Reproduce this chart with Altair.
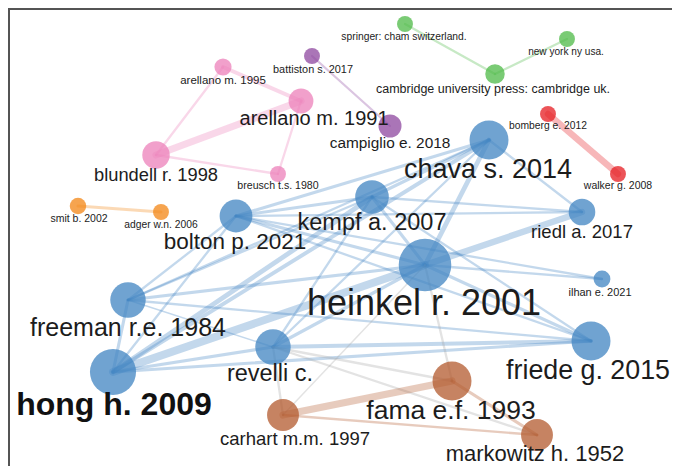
import altair as alt
import pandas as pd

node_names = [
    "heinkel r. 2001", "hong h. 2009", "chava s. 2014", "friede g. 2015",
    "freeman r.e. 1984", "revelli c.", "kempf a. 2007", "bolton p. 2021",
    "riedl a. 2017", "ilhan e. 2021",
    "fama e.f. 1993", "markowitz h. 1952", "carhart m.m. 1997",
    "blundell r. 1998", "arellano m. 1991", "arellano m. 1995", "breusch t.s. 1980",
    "smit b. 2002", "adger w.n. 2006",
    "battiston s. 2017", "campiglio e. 2018",
    "springer: cham switzerland.", "new york ny usa.", "cambridge university press: cambridge uk.",
    "bomberg e. 2012", "walker g. 2008",
]
node_x = [425, 113, 489, 591, 128, 273, 372, 236, 582, 602,
          452, 537, 283,
          156, 301, 223, 278,
          78, 161,
          312, 390,
          405, 567, 495,
          548, 618]
node_y = [265, 372, 140, 341, 300, 347, 197, 216, 212, 279,
          381, 435, 415,
          155, 101, 67, 174,
          206, 212,
          56, 126,
          24, 39, 74,
          114, 174]
node_weight = [880, 676, 484, 484, 400, 400, 361, 342, 225, 90,
               484, 324, 324,
               240, 196, 94, 81,
               86, 81,
               81, 169,
               81, 81, 121,
               81, 81]
node_cluster = ["blue"] * 10 + ["brown"] * 3 + ["pink"] * 4 + ["orange"] * 2 + \
               ["purple"] * 2 + ["green"] * 3 + ["red"] * 2

# ---- labels ----
label_x = [424, 114, 488, 588, 128, 270, 372, 235, 582, 600,
           451, 535, 295,
           156, 314, 223, 278,
           79, 161,
           313, 390,
           404, 566, 493,
           548, 618]
label_y = [315, 415, 178, 379, 336, 381, 230, 249, 238, 296,
           419, 461, 445,
           181, 125, 84, 189,
           222, 228,
           73, 148,
           40, 55, 93,
           129, 189]
label_size = [36, 32, 27, 26.8, 25, 23.5, 23.5, 22.5, 18.5, 11,
              26.5, 22, 18.5,
              18.3, 20, 11.5, 10.6,
              10.5, 10.3,
              10.9, 15.4,
              10.3, 10.1, 12.5,
              10.3, 10.5]
label_bold = [n == "hong h. 2009" for n in node_names]

# ---- links ----
edge_source = [
    "heinkel r. 2001", "heinkel r. 2001", "heinkel r. 2001", "heinkel r. 2001", "heinkel r. 2001",
    "heinkel r. 2001", "heinkel r. 2001", "heinkel r. 2001", "heinkel r. 2001",
    "chava s. 2014", "chava s. 2014", "chava s. 2014", "chava s. 2014", "chava s. 2014", "chava s. 2014",
    "kempf a. 2007", "kempf a. 2007", "kempf a. 2007", "kempf a. 2007", "kempf a. 2007", "kempf a. 2007",
    "bolton p. 2021", "bolton p. 2021", "bolton p. 2021", "bolton p. 2021", "bolton p. 2021",
    "freeman r.e. 1984", "freeman r.e. 1984", "freeman r.e. 1984",
    "revelli c.", "revelli c.", "hong h. 2009",
    "revelli c.", "revelli c.", "revelli c.", "heinkel r. 2001", "heinkel r. 2001",
    "carhart m.m. 1997", "carhart m.m. 1997", "fama e.f. 1993",
    "blundell r. 1998", "blundell r. 1998", "blundell r. 1998", "arellano m. 1991", "arellano m. 1991",
    "smit b. 2002", "battiston s. 2017",
    "springer: cham switzerland.", "cambridge university press: cambridge uk.",
    "bomberg e. 2012",
]
edge_target = [
    "hong h. 2009", "riedl a. 2017", "chava s. 2014", "kempf a. 2007", "bolton p. 2021",
    "freeman r.e. 1984", "revelli c.", "friede g. 2015", "ilhan e. 2021",
    "kempf a. 2007", "bolton p. 2021", "hong h. 2009", "riedl a. 2017", "freeman r.e. 1984", "revelli c.",
    "bolton p. 2021", "hong h. 2009", "freeman r.e. 1984", "riedl a. 2017", "friede g. 2015", "revelli c.",
    "hong h. 2009", "freeman r.e. 1984", "riedl a. 2017", "friede g. 2015", "ilhan e. 2021",
    "hong h. 2009", "friede g. 2015", "revelli c.",
    "hong h. 2009", "friede g. 2015", "friede g. 2015",
    "fama e.f. 1993", "markowitz h. 1952", "carhart m.m. 1997", "fama e.f. 1993", "carhart m.m. 1997",
    "fama e.f. 1993", "markowitz h. 1952", "markowitz h. 1952",
    "arellano m. 1991", "arellano m. 1995", "breusch t.s. 1980", "arellano m. 1995", "breusch t.s. 1980",
    "adger w.n. 2006", "campiglio e. 2018",
    "cambridge university press: cambridge uk.", "new york ny usa.",
    "walker g. 2008",
]
edge_strength = [
    5, 4, 3, 2, 2, 2, 2, 2, 1.5,
    2, 2, 2.5, 1.5, 1.5, 1.5,
    2, 3, 1.5, 1.5, 1.5, 1.5,
    1.5, 1.5, 1.5, 1.5, 1.5,
    2, 1.5, 1,
    2, 2.5, 2,
    1.5, 1.5, 1.5, 1.5, 1,
    4.5, 1.5, 2,
    4.5, 1.5, 1.5, 2.5, 1.5,
    2, 1.5,
    1.5, 1.5,
    4,
]

cluster_names = ["blue", "brown", "pink", "orange", "purple", "green", "red", "between"]
cluster_colors = ["#4386c3", "#b45c31", "#ec82ba", "#f38818", "#8f4aa1", "#50ba4a", "#e61e24", "#a8a8a8"]

# ---- tables ----
nodes = pd.DataFrame({
    "name": node_names, "x": node_x, "y": node_y,
    "weight": node_weight, "cluster": node_cluster,
})
labels = pd.DataFrame({
    "name": node_names, "lx": label_x, "ly": label_y,
    "fs": label_size, "bold": label_bold,
})
pos = {n: (x, y, c) for n, x, y, c in zip(node_names, node_x, node_y, node_cluster)}
edges = pd.DataFrame({
    "x1": [pos[s][0] for s in edge_source],
    "y1": [pos[s][1] for s in edge_source],
    "x2": [pos[t][0] for t in edge_target],
    "y2": [pos[t][1] for t in edge_target],
    "w": edge_strength,
    "cluster": [pos[s][2] if pos[s][2] == pos[t][2] else "between"
                for s, t in zip(edge_source, edge_target)],
})

W, H = 664, 458
xs = alt.Scale(domain=[8, 8 + W])
ys = alt.Scale(domain=[8 + H, 8])
cs = alt.Scale(domain=cluster_names, range=cluster_colors)

edge_layer = alt.Chart(edges).mark_rule(opacity=0.32, strokeCap="round").encode(
    x=alt.X("x1:Q", scale=xs, axis=None),
    y=alt.Y("y1:Q", scale=ys, axis=None),
    x2="x2:Q",
    y2="y2:Q",
    strokeWidth=alt.StrokeWidth("w:Q", scale=alt.Scale(domain=[1, 5], range=[1.5, 8]), legend=None),
    color=alt.Color("cluster:N", scale=cs, legend=None),
)

node_layer = alt.Chart(nodes).mark_circle(opacity=0.76).encode(
    x=alt.X("x:Q", scale=xs, axis=None),
    y=alt.Y("y:Q", scale=ys, axis=None),
    size=alt.Size("weight:Q", scale=alt.Scale(domain=[0, 1000], range=[0, 3141.6]), legend=None),
    color=alt.Color("cluster:N", scale=cs, legend=None),
)

label_normal = alt.Chart(labels).transform_filter("!datum.bold").mark_text(
    align="center", baseline="alphabetic", font="Liberation Sans", color="#1c1c1c"
).encode(
    x=alt.X("lx:Q", scale=xs, axis=None),
    y=alt.Y("ly:Q", scale=ys, axis=None),
    text="name:N",
    size=alt.Size("fs:Q", scale=None),
)

label_bold_layer = alt.Chart(labels).transform_filter("datum.bold").mark_text(
    align="center", baseline="alphabetic", font="Liberation Sans", fontWeight="bold", color="#111111"
).encode(
    x=alt.X("lx:Q", scale=xs, axis=None),
    y=alt.Y("ly:Q", scale=ys, axis=None),
    text="name:N",
    size=alt.Size("fs:Q", scale=None),
)

frame_left = alt.Chart(nodes).mark_rule(color="#555555", strokeWidth=1.5).encode(
    x=alt.value(0.75), y=alt.value(0), y2=alt.value(H)
)
frame_top = alt.Chart(nodes).mark_rule(color="#555555", strokeWidth=1.5).encode(
    y=alt.value(0.75), x=alt.value(0), x2=alt.value(W)
)

chart = alt.layer(
    edge_layer, node_layer, label_normal, label_bold_layer, frame_left, frame_top
).properties(
    width=W, height=H,
    autosize=alt.AutoSizeParams(type="none"),
    padding=0,
).configure_view(strokeWidth=0)

chart.save("out.html", embed_options={"renderer": "svg", "actions": False})
